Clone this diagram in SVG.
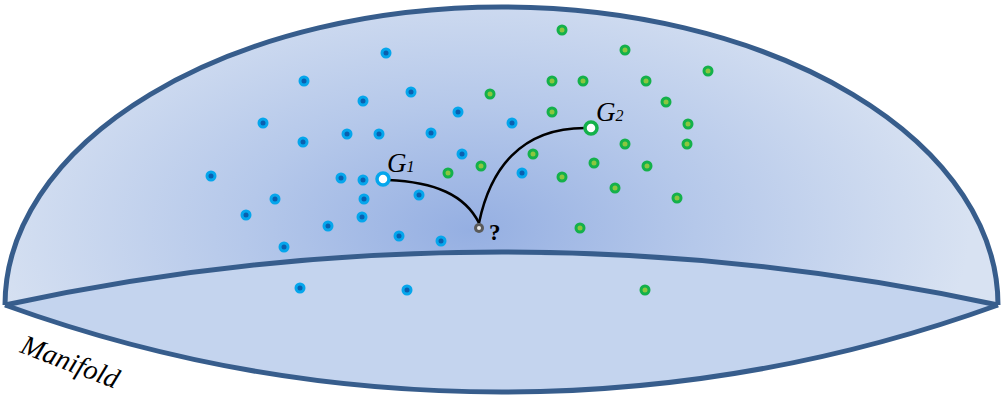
<svg xmlns="http://www.w3.org/2000/svg" width="1005" height="401" viewBox="0 0 1005 401">
<defs>
<radialGradient id="domeGrad" gradientUnits="userSpaceOnUse" cx="470" cy="230" r="500" gradientTransform="translate(470 230) scale(1 0.55) translate(-470 -230)">
<stop offset="0" stop-color="#95afe2"/>
<stop offset="0.45" stop-color="#b5c8ea"/>
<stop offset="1" stop-color="#d8e2f2"/>
</radialGradient>
<style>
.edge{stroke:#375d8c;stroke-width:5;stroke-linejoin:round;fill:none}
.b{fill:#05a6ec}
.bi{fill:#0b5fae}
.g{fill:#14b14a}
.gi{fill:#8cc63f}
.lab{font-family:"Liberation Serif",serif;font-style:italic;fill:#000}
.curve{fill:none;stroke:#000;stroke-width:2.5}
</style>
</defs>
<g id="manifold">
<path d="M5,305 A496.5,298 0 0 1 998,305 A2352,2352 0 0 0 5,305 Z" fill="url(#domeGrad)"/>
<path d="M5,305 A2352,2352 0 0 1 998,305 A1460,1460 0 0 1 5,305 Z" fill="#c4d4ee"/>
<path class="edge" d="M5,305 A496.5,298 0 0 1 998,305"/>
<path class="edge" d="M5,305 A2352,2352 0 0 1 998,305"/>
<path class="edge" d="M5,305 A1460,1460 0 0 0 998,305"/>
</g>
<g id="blue-points">
<g class="b">
<circle cx="386" cy="53" r="5.5"/><circle cx="304" cy="81" r="5.5"/><circle cx="411" cy="92" r="5.5"/><circle cx="363" cy="101" r="5.5"/><circle cx="458" cy="112" r="5.5"/><circle cx="263" cy="123" r="5.5"/><circle cx="512" cy="123" r="5.5"/><circle cx="347" cy="134" r="5.5"/><circle cx="379" cy="134" r="5.5"/><circle cx="431" cy="133" r="5.5"/><circle cx="303" cy="142" r="5.5"/><circle cx="462" cy="154" r="5.5"/><circle cx="211" cy="176" r="5.5"/><circle cx="341" cy="178" r="5.5"/><circle cx="363" cy="180" r="5.5"/><circle cx="419" cy="195" r="5.5"/><circle cx="275" cy="199" r="5.5"/><circle cx="364" cy="199" r="5.5"/><circle cx="246" cy="215" r="5.5"/><circle cx="362" cy="217" r="5.5"/><circle cx="328" cy="226" r="5.5"/><circle cx="399" cy="236" r="5.5"/><circle cx="441" cy="241" r="5.5"/><circle cx="284" cy="247" r="5.5"/><circle cx="300" cy="288" r="5.5"/><circle cx="407" cy="290" r="5.5"/><circle cx="522" cy="173" r="5.5"/>
</g>
<g class="bi">
<circle cx="386" cy="53" r="2.5"/><circle cx="304" cy="81" r="2.5"/><circle cx="411" cy="92" r="2.5"/><circle cx="363" cy="101" r="2.5"/><circle cx="458" cy="112" r="2.5"/><circle cx="263" cy="123" r="2.5"/><circle cx="512" cy="123" r="2.5"/><circle cx="347" cy="134" r="2.5"/><circle cx="379" cy="134" r="2.5"/><circle cx="431" cy="133" r="2.5"/><circle cx="303" cy="142" r="2.5"/><circle cx="462" cy="154" r="2.5"/><circle cx="211" cy="176" r="2.5"/><circle cx="341" cy="178" r="2.5"/><circle cx="363" cy="180" r="2.5"/><circle cx="419" cy="195" r="2.5"/><circle cx="275" cy="199" r="2.5"/><circle cx="364" cy="199" r="2.5"/><circle cx="246" cy="215" r="2.5"/><circle cx="362" cy="217" r="2.5"/><circle cx="328" cy="226" r="2.5"/><circle cx="399" cy="236" r="2.5"/><circle cx="441" cy="241" r="2.5"/><circle cx="284" cy="247" r="2.5"/><circle cx="300" cy="288" r="2.5"/><circle cx="407" cy="290" r="2.5"/><circle cx="522" cy="173" r="2.5"/>
</g>
</g>
<g id="green-points">
<g class="g">
<circle cx="562" cy="30" r="5.5"/><circle cx="625" cy="50" r="5.5"/><circle cx="708" cy="71" r="5.5"/><circle cx="552" cy="81" r="5.5"/><circle cx="583" cy="81" r="5.5"/><circle cx="646" cy="81" r="5.5"/><circle cx="490" cy="94" r="5.5"/><circle cx="552" cy="112" r="5.5"/><circle cx="666" cy="102" r="5.5"/><circle cx="688" cy="124" r="5.5"/><circle cx="533" cy="154" r="5.5"/><circle cx="625" cy="144" r="5.5"/><circle cx="687" cy="144" r="5.5"/><circle cx="448" cy="173" r="5.5"/><circle cx="481" cy="166" r="5.5"/><circle cx="562" cy="177" r="5.5"/><circle cx="594" cy="163" r="5.5"/><circle cx="647" cy="166" r="5.5"/><circle cx="615" cy="188" r="5.5"/><circle cx="677" cy="198" r="5.5"/><circle cx="580" cy="228" r="5.5"/><circle cx="645" cy="290" r="5.5"/>
</g>
<g class="gi">
<circle cx="562" cy="30" r="2.5"/><circle cx="625" cy="50" r="2.5"/><circle cx="708" cy="71" r="2.5"/><circle cx="552" cy="81" r="2.5"/><circle cx="583" cy="81" r="2.5"/><circle cx="646" cy="81" r="2.5"/><circle cx="490" cy="94" r="2.5"/><circle cx="552" cy="112" r="2.5"/><circle cx="666" cy="102" r="2.5"/><circle cx="688" cy="124" r="2.5"/><circle cx="533" cy="154" r="2.5"/><circle cx="625" cy="144" r="2.5"/><circle cx="687" cy="144" r="2.5"/><circle cx="448" cy="173" r="2.5"/><circle cx="481" cy="166" r="2.5"/><circle cx="562" cy="177" r="2.5"/><circle cx="594" cy="163" r="2.5"/><circle cx="647" cy="166" r="2.5"/><circle cx="615" cy="188" r="2.5"/><circle cx="677" cy="198" r="2.5"/><circle cx="580" cy="228" r="2.5"/><circle cx="645" cy="290" r="2.5"/>
</g>
</g>
<g id="connectors">
<path class="curve" d="M388,180 C435,182 465,195 479,223"/>
<path class="curve" d="M479,223 C490,170 520,128 585,128"/>
</g>
<g id="G1">
<circle cx="383" cy="179" r="6" fill="#fff" stroke="#05a6ec" stroke-width="3.5"/>
<text class="lab" x="387" y="172" font-size="27">G<tspan font-size="16">1</tspan></text>
</g>
<g id="G2">
<circle cx="591" cy="128" r="6" fill="#fff" stroke="#14b14a" stroke-width="3.5"/>
<text class="lab" x="596" y="121" font-size="27">G<tspan font-size="16">2</tspan></text>
</g>
<g id="query">
<circle cx="479" cy="228" r="5" fill="#5a5a5a"/>
<circle cx="479" cy="228" r="2" fill="#e8e8e8"/>
<text x="489" y="240" font-family="Liberation Serif,serif" font-weight="bold" font-size="23">?</text>
</g>
<text class="lab" x="19" y="352" font-size="28" transform="rotate(21 19 352)">Manifold</text>
</svg>
